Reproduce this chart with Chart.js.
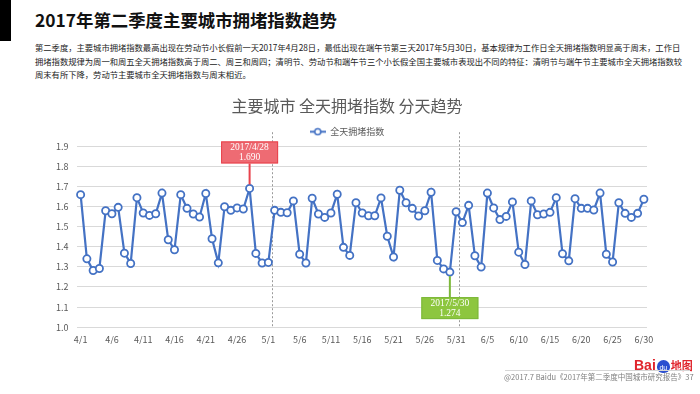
<!DOCTYPE html>
<html>
<head>
<meta charset="utf-8">
<script src="https://cdn.jsdelivr.net/npm/chart.js@4/dist/chart.umd.min.js"></script>
<style>
  html, body { margin: 0; padding: 0; background: #fff; }
  body { width: 700px; height: 394px; position: relative; overflow: hidden; font-family: "Noto Sans CJK SC", "Noto Sans", sans-serif; }
  #bar { position: absolute; left: 0; top: 0; width: 11px; height: 41px; background: #000; }
  #title { position: absolute; left: 35px; top: 10px; font-size: 17.4px; line-height: 20px; font-weight: bold; color: #111; white-space: nowrap; }
  #desc { position: absolute; left: 35px; top: 41px; font-size: 8.3px; line-height: 13.5px; color: #222; white-space: nowrap; }
  #chartBox { position: absolute; left: 0; top: 0; width: 700px; height: 394px; }
  #logo { position: absolute; left: 634px; top: 349px; height: 17px; white-space: nowrap; }
  #logo .bai { font-family: "Liberation Sans", Arial, sans-serif; font-weight: bold; font-size: 14px; color: #e0242c; vertical-align: bottom; }
  #logo .paw { display: inline-block; width: 13px; height: 13px; border-radius: 50% 50% 45% 45%; background: #2b4fd0; color: #fff; font-family: "Liberation Sans", sans-serif; font-size: 7px; line-height: 15px; text-align: center; vertical-align: bottom; margin: 0 1px; }
  #logo .map { font-weight: bold; font-size: 11px; color: #e0242c; vertical-align: bottom; }
  #rule { position: absolute; left: 505px; top: 370px; width: 185px; height: 1px; background: #d6d6d6; }
  #foot { position: absolute; left: 504px; top: 372px; font-size: 7.5px; line-height: 10px; color: #808080; white-space: nowrap; }
</style>
</head>
<body>
<div id="bar"></div>
<div id="title">2017年第二季度主要城市拥堵指数趋势</div>
<div id="desc">第二季度，主要城市拥堵指数最高出现在劳动节小长假前一天2017年4月28日，最低出现在端午节第三天2017年5月30日，基本规律为工作日全天拥堵指数明显高于周末，工作日<br>拥堵指数规律为周一和周五全天拥堵指数高于周二、周三和周四；清明节、劳动节和端午节三个小长假全国主要城市表现出不同的特征：清明节与端午节主要城市全天拥堵指数较<br>周末有所下降，劳动节主要城市全天拥堵指数与周末相近。</div>
<div id="chartBox"><canvas id="myChart" width="700" height="394"></canvas></div>
<div id="logo"><span class="bai">Bai</span><span class="paw">du</span><span class="map">地图</span></div>
<div id="rule"></div>
<div id="foot">@2017.7 Baidu《2017年第二季度中国城市研究报告》37</div>

<script>
// dates shown on the x axis (one per day)
const days = [
  '4/1','4/2','4/3','4/4','4/5','4/6','4/7','4/8','4/9','4/10',
  '4/11','4/12','4/13','4/14','4/15','4/16','4/17','4/18','4/19','4/20',
  '4/21','4/22','4/23','4/24','4/25','4/26','4/27','4/28','4/29','4/30',
  '5/1','5/2','5/3','5/4','5/5','5/6','5/7','5/8','5/9','5/10',
  '5/11','5/12','5/13','5/14','5/15','5/16','5/17','5/18','5/19','5/20',
  '5/21','5/22','5/23','5/24','5/25','5/26','5/27','5/28','5/29','5/30','5/31',
  '6/1','6/2','6/3','6/4','6/5','6/6','6/7','6/8','6/9','6/10',
  '6/11','6/12','6/13','6/14','6/15','6/16','6/17','6/18','6/19','6/20',
  '6/21','6/22','6/23','6/24','6/25','6/26','6/27','6/28','6/29','6/30'
];

// daily congestion index
const aprilIndex = [1.659, 1.340, 1.282, 1.292, 1.579, 1.564, 1.596, 1.368, 1.317, 1.644,
  1.568, 1.556, 1.564, 1.667, 1.435, 1.385, 1.659, 1.591, 1.563, 1.548,
  1.665, 1.440, 1.320, 1.599, 1.581, 1.593, 1.588, 1.690, 1.367, 1.319];
const mayIndex = [1.322, 1.581, 1.571, 1.569, 1.628, 1.363, 1.319, 1.641, 1.563, 1.546,
  1.568, 1.661, 1.397, 1.357, 1.619, 1.568, 1.554, 1.554, 1.643, 1.452,
  1.349, 1.681, 1.619, 1.591, 1.553, 1.579, 1.671, 1.332, 1.290, 1.274, 1.574];
const juneIndex = [1.520, 1.606, 1.355, 1.299, 1.667, 1.593, 1.535, 1.551, 1.623, 1.373,
  1.312, 1.628, 1.559, 1.563, 1.571, 1.644, 1.365, 1.330, 1.639, 1.591,
  1.591, 1.583, 1.667, 1.363, 1.324, 1.619, 1.566, 1.546, 1.566, 1.636];

const seriesName = '全天拥堵指数';
const yTicks = [1.0, 1.1, 1.2, 1.3, 1.4, 1.5, 1.6, 1.7, 1.8, 1.9];

// highest / lowest day callouts
const calloutDays = ['4/28', '5/30'];
const calloutText = [['2017/4/28', '1.690'], ['2017/5/30', '1.274']];
const calloutSide = ['above', 'below'];
const calloutFill = ['#ee6b73', '#8dc63f'];
const calloutLine = ['#e8424c', '#7cb83a'];

// dashed month separators
const monthBreaks = ['5/1', '5/31'];

const dailyIndex = aprilIndex.concat(mayIndex, juneIndex);
const blue = '#4472c4';
const grey = '#595959';
const cjk = '"Noto Sans CJK SC", "Noto Sans", sans-serif';

// legend icon: short line with a hollow circle
const icon = document.createElement('canvas');
icon.width = 16; icon.height = 9;
(function () {
  const c = icon.getContext('2d');
  c.strokeStyle = blue; c.lineWidth = 2;
  c.beginPath(); c.moveTo(0, 4.5); c.lineTo(16, 4.5); c.stroke();
  c.fillStyle = '#fff'; c.lineWidth = 1.6;
  c.beginPath(); c.arc(8, 4.5, 3, 0, Math.PI * 2); c.fill(); c.stroke();
})();

const separators = {
  id: 'separators',
  beforeDatasetsDraw(chart) {
    const x = chart.scales.x, area = chart.chartArea, ctx = chart.ctx;
    const step = x.getPixelForValue(1) - x.getPixelForValue(0);
    ctx.save();
    ctx.strokeStyle = '#9a9a9a';
    ctx.lineWidth = 1;
    ctx.setLineDash([2, 2]);
    monthBreaks.forEach(d => {
      const px = Math.round(x.getPixelForValue(days.indexOf(d)) + step / 2) + 0.5;
      ctx.beginPath();
      ctx.moveTo(px, area.top - 14);
      ctx.lineTo(px, area.bottom);
      ctx.stroke();
    });
    ctx.restore();
  }
};

const callouts = {
  id: 'callouts',
  afterDatasetsDraw(chart) {
    const x = chart.scales.x, y = chart.scales.y, ctx = chart.ctx;
    const w = 57, h = 22, gap = 25;
    ctx.save();
    calloutDays.forEach((d, i) => {
      const idx = days.indexOf(d);
      const px = x.getPixelForValue(idx);
      const py = y.getPixelForValue(dailyIndex[idx]);
      const up = calloutSide[i] === 'above';
      const top = up ? py - gap - h : py + gap;
      ctx.strokeStyle = calloutLine[i];
      ctx.lineWidth = 2;
      ctx.beginPath();
      ctx.moveTo(px, up ? py - 4 : py + 4);
      ctx.lineTo(px, up ? top + h : top);
      ctx.stroke();
      ctx.fillStyle = calloutFill[i];
      ctx.fillRect(px - w / 2, top, w, h);
      ctx.lineWidth = 1;
      ctx.strokeRect(px - w / 2 + 0.5, top + 0.5, w - 1, h - 1);
      ctx.fillStyle = '#fff';
      ctx.font = '9.5px "Liberation Serif", serif';
      ctx.textAlign = 'center';
      ctx.textBaseline = 'middle';
      ctx.fillText(calloutText[i][0], px, top + h / 2 - 5);
      ctx.fillText(calloutText[i][1], px, top + h / 2 + 5.5);
    });
    ctx.restore();
  }
};

const ctx = document.getElementById('myChart').getContext('2d');
const chart = new Chart(ctx, {
  type: 'line',
  data: {
    labels: days,
    datasets: [{
      label: seriesName,
      data: dailyIndex,
      borderColor: blue,
      borderWidth: 2.2,
      pointRadius: 3.6,
      pointBorderWidth: 1.8,
      pointBackgroundColor: '#fff',
      pointBorderColor: blue,
      tension: 0
    }]
  },
  options: {
    responsive: false,
    animation: false,
    layout: { padding: { left: 47, right: 53, top: 96, bottom: 50 } },
    plugins: {
      title: {
        display: true,
        text: '主要城市 全天拥堵指数 分天趋势',
        color: grey,
        font: { family: cjk, size: 16, weight: 'normal' },
        padding: { top: 0, bottom: 6 }
      },
      legend: {
        labels: {
          usePointStyle: true,
          pointStyleWidth: 16,
          padding: 6,
          color: grey,
          font: { family: cjk, size: 9 },
          generateLabels: () => [{
            text: seriesName, pointStyle: icon, fillStyle: blue, strokeStyle: blue,
            lineWidth: 0, hidden: false, datasetIndex: 0, fontColor: grey
          }]
        }
      },
      tooltip: { enabled: false }
    },
    scales: {
      x: {
        offset: true,
        grid: { display: false },
        border: { display: false },
        ticks: {
          autoSkip: false,
          maxRotation: 0,
          padding: -1,
          color: grey,
          font: { family: cjk, size: 9 },
          callback: (v, i) => (i % 5 === 0 ? days[i] : '')
        }
      },
      y: {
        min: 1.0,
        max: 1.9,
        afterBuildTicks: s => { s.ticks = yTicks.map(v => ({ value: v })); },
        grid: { color: '#d9d9d9', drawTicks: false },
        border: { display: false },
        ticks: {
          padding: 9,
          color: grey,
          font: { family: cjk, size: 9 },
          callback: v => v.toFixed(1)
        }
      }
    }
  },
  plugins: [separators, callouts]
});
</script>
</body>
</html>
